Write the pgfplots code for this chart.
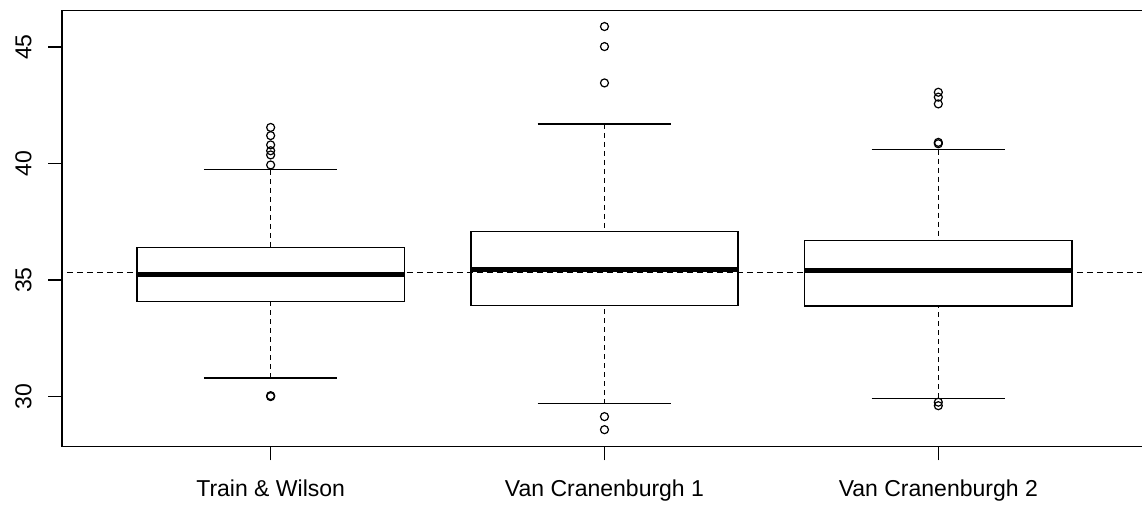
\documentclass[border=0pt]{standalone}
\usepackage{fontspec}
\setmainfont{Liberation Sans}
\usepackage{pgfplots}
\pgfplotsset{compat=1.18}
\usepgfplotslibrary{statistics}
\pgfplotsset{
  rbox/.style={
    boxplot prepared={#1},
    black, line width=1.3pt, mark=o, mark size=4pt,
    mark options={solid, line width=1.2pt, black},
    boxplot/box extend=0.8, boxplot/whisker extend=0.4,
    boxplot/every median/.style={line width=4.5pt},
    boxplot/draw/lower whisker/.code={%
      \draw[line width=1.2pt, dash pattern=on 5pt off 4pt]
        (boxplot cs:\pgfplotsboxplotvalue{lower whisker}) --
        (boxplot cs:\pgfplotsboxplotvalue{lower quartile});
      \draw[solid, line width=1.2pt]
        (boxplot whisker cs:\pgfplotsboxplotvalue{lower whisker},0) --
        (boxplot whisker cs:\pgfplotsboxplotvalue{lower whisker},1);
    },
    boxplot/draw/upper whisker/.code={%
      \draw[line width=1.2pt, dash pattern=on 5pt off 4pt]
        (boxplot cs:\pgfplotsboxplotvalue{upper whisker}) --
        (boxplot cs:\pgfplotsboxplotvalue{upper quartile});
      \draw[solid, line width=1.2pt]
        (boxplot whisker cs:\pgfplotsboxplotvalue{upper whisker},0) --
        (boxplot whisker cs:\pgfplotsboxplotvalue{upper whisker},1);
    },
  }
}
\begin{document}
\begin{tikzpicture}
\useasboundingbox (0,0) rectangle (1142pt,505pt);
\begin{axis}[
  at={(62pt,58.3pt)}, anchor=south west,
  scale only axis, width=1083.3pt, height=436pt,
  xmin=0.375, xmax=3.62, ymin=27.85, ymax=46.56,
  xtick={1,2,3},
  xticklabels={Train \& Wilson, Van Cranenburgh 1, Van Cranenburgh 2},
  ytick={30,35,40,45},
  tick pos=left, tick align=outside, major tick length=13.7pt,
  axis line style={line width=1.3pt},
  major tick style={black, line width=1.3pt},
  tick label style={font=\fontsize{23}{27}\selectfont, text=black},
  yticklabel style={rotate=90, anchor=south, inner sep=0pt},
  xticklabel style={anchor=north, inner sep=0pt},
  yticklabel shift=16.5pt,
  xticklabel shift=19pt,
  /pgf/number format/assume math mode=true,
  boxplot/draw direction=y,
]
\addplot[rbox={draw position=1, lower whisker=30.80, lower quartile=34.09,
  median=35.24, upper quartile=36.41, upper whisker=39.73}]
  coordinates {(0,41.55) (0,41.2) (0,40.8) (0,40.55) (0,40.37) (0,39.94) (0,30.04) (0,30.0)};
\addplot[rbox={draw position=2, lower whisker=29.69, lower quartile=33.91,
  median=35.45, upper quartile=37.08, upper whisker=41.70}]
  coordinates {(0,45.88) (0,45.02) (0,43.46) (0,29.14) (0,28.58)};
\addplot[rbox={draw position=3, lower whisker=29.93, lower quartile=33.89,
  median=35.41, upper quartile=36.70, upper whisker=40.60}]
  coordinates {(0,43.06) (0,42.85) (0,42.56) (0,40.91) (0,40.85) (0,29.76) (0,29.61)};
\addplot[black, line width=1.2pt, dash pattern=on 6pt off 4pt]
  coordinates {(0.3,35.32) (3.7,35.32)};
\end{axis}
\end{tikzpicture}
\end{document}
